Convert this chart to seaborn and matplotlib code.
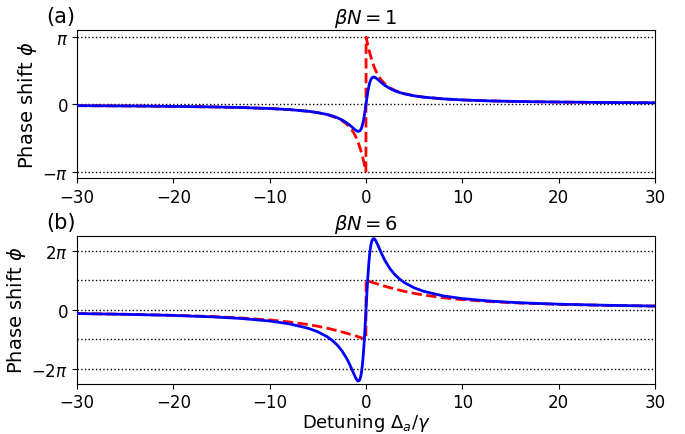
import numpy as np
import pandas as pd
import matplotlib
matplotlib.use("Agg")
import matplotlib.pyplot as plt
import seaborn as sns

# Detuning grid (in units of gamma) for the full response curves
detuning = [-30, -25, -20, -16, -13, -10, -8, -6, -5, -4, -3.5, -3, -2.5, -2,
            -1.75, -1.5, -1.25, -1, -0.9, -0.8, -0.7, -0.6, -0.5, -0.4, -0.3,
            -0.2, -0.1, 0, 0.1, 0.2, 0.3, 0.4, 0.5, 0.6, 0.7, 0.8, 0.9, 1,
            1.25, 1.5, 1.75, 2, 2.5, 3, 3.5, 4, 5, 6, 8, 10, 13, 16, 20, 25, 30]

# Phase shift (rad), full model, beta*N = 1
phase_full_bn1 = [-0.067, -0.080, -0.100, -0.125, -0.153, -0.199, -0.248, -0.328,
                  -0.390, -0.481, -0.544, -0.623, -0.727, -0.865, -0.949, -1.044,
                  -1.143, -1.231, -1.254, -1.265, -1.256, -1.218, -1.143, -1.019,
                  -0.839, -0.602, -0.315, 0.0, 0.315, 0.602, 0.839, 1.019, 1.143,
                  1.218, 1.256, 1.265, 1.254, 1.231, 1.143, 1.044, 0.949, 0.865,
                  0.727, 0.623, 0.544, 0.481, 0.390, 0.328, 0.248, 0.199, 0.153,
                  0.125, 0.100, 0.080, 0.067]

# Phase shift (rad), full model, beta*N = 6
phase_full_bn6 = [-0.400, -0.480, -0.599, -0.748, -0.920, -1.193, -1.486, -1.966,
                  -2.341, -2.887, -3.262, -3.740, -4.364, -5.189, -5.695, -6.261,
                  -6.857, -7.385, -7.526, -7.589, -7.534, -7.310, -6.857, -6.115,
                  -5.035, -3.609, -1.890, 0.0, 1.890, 3.609, 5.035, 6.115, 6.857,
                  7.310, 7.534, 7.589, 7.526, 7.385, 6.857, 6.261, 5.695, 5.189,
                  4.364, 3.740, 3.262, 2.887, 2.341, 1.966, 1.486, 1.193, 0.920,
                  0.748, 0.599, 0.480, 0.400]

# Detuning grid for the approximate (dashed) curves, split at resonance
detuning_approx = [-30, -25, -20, -16, -13, -10, -8, -6, -5, -4, -3, -2.5, -2,
                   -1.5, -1.25, -1, -0.8, -0.6, -0.5, -0.4, -0.3, -0.2, -0.1, -0.01,
                   0.01, 0.1, 0.2, 0.3, 0.4, 0.5, 0.6, 0.8, 1, 1.25, 1.5, 2, 2.5,
                   3, 4, 5, 6, 8, 10, 13, 16, 20, 25, 30]

phase_approx_bn1 = [-0.0666, -0.0800, -0.0999, -0.1248, -0.1535, -0.1993, -0.2487,
                    -0.3303, -0.3948, -0.4900, -0.6435, -0.7610, -0.9273, -1.1760,
                    -1.3495, -1.5708, -1.7921, -2.0608, -2.2143, -2.3806, -2.5587,
                    -2.7468, -2.9423, -3.1216,
                    3.1216, 2.9423, 2.7468, 2.5587, 2.3806, 2.2143, 2.0608, 1.7921,
                    1.5708, 1.3495, 1.1760, 0.9273, 0.7610, 0.6435, 0.4900, 0.3948,
                    0.3303, 0.2487, 0.1993, 0.1535, 0.1248, 0.0999, 0.0800, 0.0666]

phase_approx_bn6 = [-0.3948, -0.4711, -0.5829, -0.7175, -0.8648, -1.0808, -1.2870,
                    -1.5708, -1.7521, -1.9656, -2.2143, -2.3520, -2.4981, -2.6516,
                    -2.7309, -2.8113, -2.8765, -2.9423, -2.9753, -3.0085, -3.0417,
                    -3.0749, -3.1083, -3.1383,
                    3.1383, 3.1083, 3.0749, 3.0417, 3.0085, 2.9753, 2.9423, 2.8765,
                    2.8113, 2.7309, 2.6516, 2.4981, 2.3520, 2.2143, 1.9656, 1.7521,
                    1.5708, 1.2870, 1.0808, 0.8648, 0.7175, 0.5829, 0.4711, 0.3948]

panel_labels = ["(a)", "(b)"]
panel_titles = [r"$\beta N = 1$", r"$\beta N = 6$"]
x_ticks = [-30, -20, -10, 0, 10, 20, 30]

pi = np.pi
fig = plt.figure(figsize=(6.85, 4.35), dpi=100)
ax_top = fig.add_axes([0.1124, 0.5874, 0.8438, 0.3414])
ax_bot = fig.add_axes([0.1124, 0.1160, 0.8438, 0.3390])

panels = [
    (ax_top, phase_full_bn1, phase_approx_bn1, [-pi, 0, pi], [-pi, 0, pi],
     [r"$-\pi$", "0", r"$\pi$"], 1.1 * pi),
    (ax_bot, phase_full_bn6, phase_approx_bn6, [-2 * pi, -pi, 0, pi, 2 * pi],
     [-2 * pi, 0, 2 * pi], [r"$-2\pi$", "0", r"$2\pi$"], 2.5 * pi),
]

for i, (ax, full, approx, guides, yt, ytl, ylim) in enumerate(panels):
    for g in guides:
        ax.axhline(g, color="black", linestyle=":", linewidth=1.0, zorder=1)
    df_a = pd.DataFrame({"x": detuning_approx, "y": approx})
    df_f = pd.DataFrame({"x": detuning, "y": full})
    sns.lineplot(data=df_a, x="x", y="y", ax=ax, color="red", linestyle="--",
                 linewidth=2, sort=False, estimator=None, zorder=2)
    sns.lineplot(data=df_f, x="x", y="y", ax=ax, color="blue", linewidth=2,
                 sort=False, estimator=None, zorder=3)
    ax.set_xlim(-30, 30)
    ax.set_ylim(-ylim, ylim)
    ax.set_xticks(x_ticks)
    ax.set_yticks(yt)
    ax.set_yticklabels(ytl)
    ax.tick_params(labelsize=12, pad=3)
    ax.set_ylabel(r"Phase shift $\phi$", fontsize=14, labelpad=2)
    ax.set_xlabel("")
    ax.set_title(panel_titles[i], fontsize=14, pad=5)
    ax.text(-0.053, 1.03, panel_labels[i], transform=ax.transAxes,
            fontsize=15, ha="left", va="bottom")

ax_bot.set_xlabel(r"Detuning $\Delta_a/\gamma$", fontsize=13, labelpad=0.5)

fig.savefig("out.png", dpi=100)
